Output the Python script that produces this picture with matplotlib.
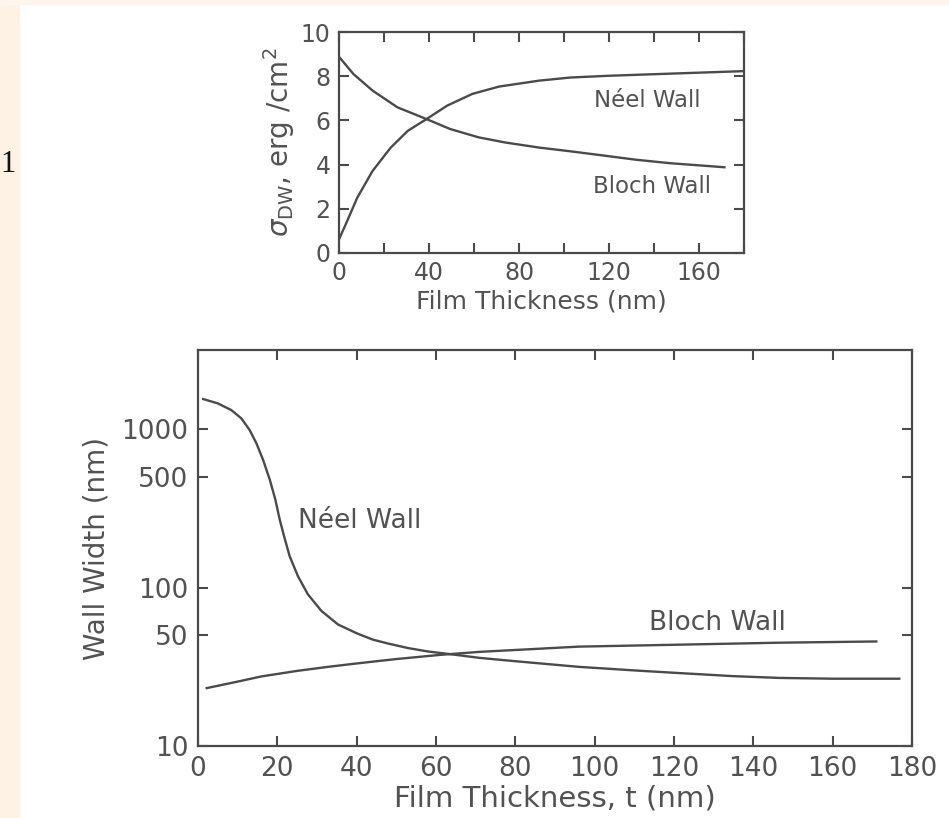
import matplotlib
matplotlib.use("Agg")
import matplotlib.pyplot as plt
from matplotlib.patches import Rectangle
from matplotlib.ticker import NullLocator

# --- top panel: domain wall energy (erg/cm^2) vs film thickness (nm) ---
neel_top_t = [0, 3.0, 8.1, 14.9, 23.0, 30.6, 38.9, 48.1, 59.3, 71.1, 89, 102.8, 120, 139.9, 160, 180]
neel_top_e = [0.62, 1.3, 2.5, 3.71, 4.77, 5.53, 6.06, 6.67, 7.2, 7.53, 7.8, 7.94, 8.02, 8.09, 8.16, 8.23]
bloch_top_t = [0, 6.4, 14.9, 26.0, 38.9, 49.4, 62.2, 73.9, 89, 103, 117.6, 132, 147.5, 171.3]
bloch_top_e = [8.88, 8.1, 7.35, 6.59, 6.06, 5.61, 5.23, 5.0, 4.77, 4.6, 4.41, 4.22, 4.06, 3.88]

# --- bottom panel: wall width (nm) vs film thickness (nm) ---
neel_bot_t = [1.3, 5.0, 8.4, 10.9, 13.0, 14.7, 16.4, 18.1, 19.5, 20.6, 21.7, 23.1, 25.2, 27.7,
              31.1, 35.3, 40.0, 44, 48, 53, 58, 64.7, 71, 80, 96, 110, 121, 135, 146.6, 160, 176.8]
neel_bot_w = [1550, 1455, 1320, 1172, 990, 817, 641, 480, 359, 269, 211, 158, 118, 90.7,
              71.3, 58.5, 51.5, 47, 44.3, 41.5, 39.5, 37.7, 36, 34.3, 31.6, 30, 28.9, 27.6, 26.9, 26.6, 26.6]
bloch_bot_t = [2.2, 10, 16, 25, 32.8, 40, 50, 61, 71, 85, 96, 121, 146.6, 171]
bloch_bot_w = [23.2, 25.5, 27.5, 29.8, 31.6, 33.2, 35.4, 37.6, 39.3, 41, 42.4, 43.6, 44.9, 45.7]

top_xticks = list(range(0, 181, 20))
top_xlabels = ["0", "", "40", "", "80", "", "120", "", "160", ""]
top_yticks = [0, 2, 4, 6, 8, 10]
bot_xticks = list(range(0, 181, 20))
bot_yticks = [10, 50, 100, 500, 1000]

ink = "#4a4a4a"
txt = "#525252"

fig = plt.figure(figsize=(9.49, 8.18), dpi=100)
fig.patch.set_facecolor("white")

# slide background strips
fig.patches.append(Rectangle((0, 0), 19 / 949, 1, transform=fig.transFigure,
                             color="#fef2e4", zorder=0))
fig.patches.append(Rectangle((0, 1 - 4 / 818), 1, 4 / 818, transform=fig.transFigure,
                             color="#fef5ec", zorder=0))
fig.text(0.5 / 949, 1 - 165 / 818, "1", family="Liberation Serif", fontsize=22,
         ha="left", va="center", color="#111111")


def style(ax):
    for s in ax.spines.values():
        s.set_color(ink)
        s.set_linewidth(1.6)
    ax.tick_params(which="both", direction="in", top=True, right=True,
                   color=ink, width=1.5, length=7, labelcolor=txt)


# top chart
ax1 = fig.add_axes([339 / 949, 1 - 253 / 818, 405 / 949, 221 / 818])
ax1.plot(neel_top_t, neel_top_e, color=ink, lw=1.7)
ax1.plot(bloch_top_t, bloch_top_e, color=ink, lw=1.7)
ax1.set_xlim(0, 180)
ax1.set_ylim(0, 10)
ax1.set_xticks(top_xticks)
ax1.set_xticklabels(top_xlabels)
ax1.set_yticks(top_yticks)
style(ax1)
ax1.tick_params(labelsize=17, pad=6)
ax1.set_xlabel("Film Thickness (nm)", fontsize=18, color=txt, labelpad=3)
ax1.set_ylabel(r"$\sigma_{\mathrm{DW}}$, erg /cm$^2$", fontsize=20, color=txt, labelpad=3)
ax1.text(137, 6.9, "Néel Wall", fontsize=16.5, color=txt, ha="center", va="center")
ax1.text(139, 3.0, "Bloch Wall", fontsize=16.5, color=txt, ha="center", va="center")

# bottom chart
ax2 = fig.add_axes([198 / 949, 1 - 746 / 818, 714 / 949, 396 / 818])
ax2.plot(neel_bot_t, neel_bot_w, color=ink, lw=1.7)
ax2.plot(bloch_bot_t, bloch_bot_w, color=ink, lw=1.7)
ax2.set_yscale("log")
ax2.set_xlim(0, 180)
ax2.set_ylim(10, 10 ** 3.5)
ax2.set_xticks(bot_xticks)
ax2.set_xticklabels([str(v) for v in bot_xticks])
ax2.set_yticks(bot_yticks)
ax2.set_yticklabels([str(v) for v in bot_yticks])
ax2.yaxis.set_minor_locator(NullLocator())
style(ax2)
ax2.tick_params(labelsize=19, pad=7)
ax2.set_xlabel("Film Thickness, t (nm)", fontsize=21, color=txt, labelpad=2)
ax2.set_ylabel("Wall Width (nm)", fontsize=20, color=txt, labelpad=8)
ax2.text(40.8, 264, "Néel Wall", fontsize=19, color=txt, ha="center", va="center")
ax2.text(131, 60, "Bloch Wall", fontsize=19, color=txt, ha="center", va="center")

fig.savefig("out.png", dpi=100)
